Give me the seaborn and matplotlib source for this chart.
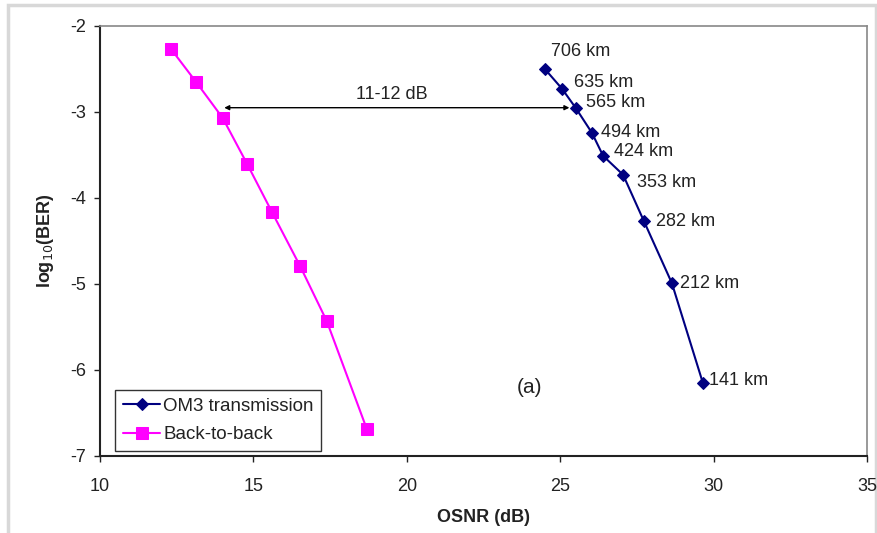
import matplotlib
matplotlib.use("Agg")
import matplotlib.pyplot as plt
import seaborn as sns
import pandas as pd
from matplotlib.patches import Rectangle

# ---- data ----
b2b_osnr = [12.32, 13.13, 14.0, 14.79, 15.6, 16.52, 17.39, 18.70]
b2b_logber = [-2.27, -2.65, -3.07, -3.60, -4.16, -4.79, -5.43, -6.69]

om3_osnr = [24.5, 25.06, 25.5, 26.03, 26.4, 27.05, 27.73, 28.64, 29.65]
om3_logber = [-2.50, -2.73, -2.95, -3.24, -3.51, -3.73, -4.27, -4.99, -6.15]
om3_labels = ["706 km", "635 km", "565 km", "494 km", "424 km",
              "353 km", "282 km", "212 km", "141 km"]

xticks = [10, 15, 20, 25, 30, 35]
yticks = [-2, -3, -4, -5, -6, -7]

sns.set_theme(style="white")
plt.rcParams['font.family'] = ['Liberation Sans', 'DejaVu Sans']
plt.rcParams['axes.unicode_minus'] = False

fig = plt.figure(figsize=(8.78, 5.33), dpi=100)
ax = fig.add_axes([100/878, 1-456/533, 767/878, 430/533])

# outer grey frame
fig.patches.append(Rectangle((8/878, -0.05), 868/878, 1.05 - 5/533,
                             transform=fig.transFigure, fill=False,
                             edgecolor="#d8d8d8", linewidth=2.5, zorder=-1))

df_om3 = pd.DataFrame({"x": om3_osnr, "y": om3_logber})
df_b2b = pd.DataFrame({"x": b2b_osnr, "y": b2b_logber})

sns.lineplot(data=df_om3, x="x", y="y", ax=ax, color="#000080", marker="D",
             markersize=6, markeredgecolor="#000080", linewidth=1.5,
             sort=False, label="OM3 transmission")
sns.lineplot(data=df_b2b, x="x", y="y", ax=ax, color="#ff00ff", marker="s",
             markersize=8, markeredgecolor="#ff00ff", linewidth=1.5,
             sort=False, label="Back-to-back")

# distance labels
offsets = [(0.2, 0.2), (0.38, 0.07), (0.33, 0.06), (0.3, 0.0), (0.36, 0.05),
           (0.46, -0.09), (0.4, 0.0), (0.27, 0.0), (0.2, 0.03)]
for x, y, lab, (dx, dy) in zip(om3_osnr, om3_logber, om3_labels, offsets):
    ax.text(x + dx, y + dy, lab, fontsize=13, va="center", ha="left",
            color="#222222")

# arrow
ax.annotate("", xy=(14.05, -2.95), xytext=(25.3, -2.95),
            arrowprops=dict(arrowstyle="<|-|>", color="black", lw=1,
                            mutation_scale=7, shrinkA=0, shrinkB=0))
ax.text(19.5, -2.8, "11-12 dB", fontsize=13, ha="center", va="center",
        color="#222222")
ax.text(24.0, -6.2, "(a)", fontsize=15, ha="center", va="center",
        color="#222222")

ax.set_xlim(10, 35)
ax.set_ylim(-7, -2)
ax.set_xticks(xticks)
ax.set_yticks(yticks)
ax.tick_params(axis="both", direction="out", length=4, width=1,
               labelsize=13, colors="#222222", left=True, bottom=True)
ax.tick_params(axis="y", pad=6)
ax.tick_params(axis="x", pad=12)
ax.set_xlabel("OSNR (dB)", fontsize=13, fontweight="bold", labelpad=10,
              color="#222222")
ax.set_ylabel("log$_{10}$(BER)", fontsize=13, fontweight="bold", labelpad=10,
              color="#222222")

for s in ["left", "bottom"]:
    ax.spines[s].set_color("#222222")
    ax.spines[s].set_linewidth(1.5)
for s in ["top", "right"]:
    ax.spines[s].set_color("#888888")
    ax.spines[s].set_linewidth(1.2)

leg = ax.legend(loc="lower left", bbox_to_anchor=(0.02, 0.012),
                fontsize=13.5, frameon=True, fancybox=False,
                handlelength=2.0, handletextpad=0.15, borderpad=0.4,
                labelspacing=0.6, borderaxespad=0)
leg.get_frame().set_edgecolor("black")
leg.get_frame().set_linewidth(1)
for t in leg.get_texts():
    t.set_color("#222222")

fig.savefig("out.png", dpi=100, facecolor="white")
